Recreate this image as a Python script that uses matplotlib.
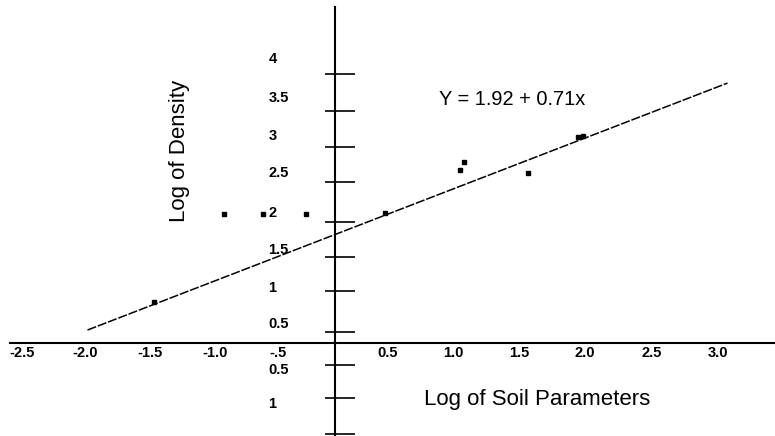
import matplotlib.pyplot as plt

plt.rcParams['font.family'] = ['Liberation Sans', 'DejaVu Sans']

# points (x = log soil parameter, y = log density)
pts_x = [-0.89, -0.58, -0.23, 0.40, 1.00, 1.03, 1.54, 1.94, 1.98, -1.45]
pts_y = [1.79, 1.79, 1.79, 1.81, 2.40, 2.51, 2.36, 2.86, 2.88, 0.57]

# ends of the fitted line as drawn
fit_x = [-1.98, 3.14]
fit_y = [0.18, 3.61]

x_tick_pos = [-2.5, -2.0, -1.48, -0.96, -0.46, 0.42, 0.95, 1.47, 2.0, 2.53, 3.06]
x_tick_labels = ['-2.5', '-2.0', '-1.5', '-1.0', '-.5', '0.5', '1.0', '1.5', '2.0', '2.5', '3.0']

y_tick_marks = [3.74, 3.22, 2.72, 2.24, 1.68, 1.19, 0.72, 0.15, -0.31, -0.76, -1.26]
y_label_pos = [3.97, 3.42, 2.89, 2.38, 1.83, 1.31, 0.79, 0.28, -0.35, -0.82]
y_labels = ['4', '3.5', '3', '2.5', '2', '1.5', '1', '0.5', '0.5', '1']

fig = plt.figure(figsize=(7.75, 4.36), dpi=100)
ax = fig.add_axes([0, 0, 1, 1])
ax.set_xlim(-2.68, 3.52)
ax.set_ylim(-1.292, 4.764)

ax.plot(fit_x, fit_y, color='black', lw=1.1, dashes=(6, 1.2))
ax.plot(pts_x, pts_y, 's', color='black', ms=3.2)

# axes cross at the origin
ax.spines['top'].set_visible(False)
ax.spines['bottom'].set_position(('data', 0))
ax.spines['bottom'].set_bounds(-2.6, 3.52)
ax.spines['bottom'].set_linewidth(1.5)
ax.spines['left'].set_position(('data', 0))
ax.spines['left'].set_bounds(-1.292, 4.667)
ax.spines['left'].set_linewidth(1.5)
ax.spines['right'].set_position(('data', 0))
ax.spines['right'].set_visible(False)

ax.set_xticks(x_tick_pos, x_tick_labels)
ax.tick_params(axis='x', length=0, pad=2, labelsize=10.5)
for lbl in ax.get_xticklabels():
    lbl.set_fontweight('bold')

ax.yaxis.remove_overlapping_locs = False
ax.set_yticks(y_tick_marks, [''] * len(y_tick_marks))
ax.tick_params(axis='y', which='major', direction='in', left=True, right=True,
               length=14.4, width=1.2, labelleft=False, labelright=False)
for t in ax.yaxis.get_major_ticks():
    t.tick2line.set_markersize(7.2)

ax.set_yticks(y_label_pos, y_labels, minor=True)
ax.tick_params(axis='y', which='minor', length=0, pad=48, labelsize=10.5)
for lbl in ax.get_yticklabels(minor=True):
    lbl.set_horizontalalignment('left')
    lbl.set_fontweight('bold')

fig.text(179/775, 1 - 151/436, 'Log of Density', rotation=90, fontsize=16,
         ha='center', va='center')
fig.text(537/775, 1 - 405/436, 'Log of Soil Parameters', fontsize=16,
         ha='center', va='baseline')
fig.text(512/775, 1 - 105/436, 'Y = 1.92 + 0.71x', fontsize=14.4,
         ha='center', va='baseline')

plt.savefig('out.png', dpi=100)
